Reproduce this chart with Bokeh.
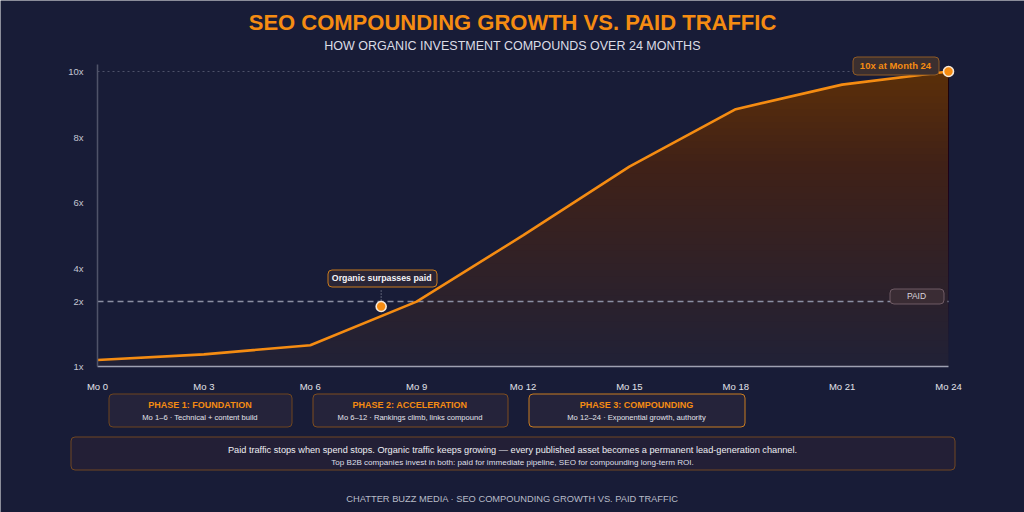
import numpy as np
from bokeh.plotting import figure
from bokeh.models import Label, BoxAnnotation, FixedTicker, Range1d
from bokeh.embed import file_html
from bokeh.resources import INLINE

# ---- data -------------------------------------------------------------
months = [0, 3, 6, 9, 12, 15, 18, 21, 24]
organic = [1.2, 1.37, 1.65, 2.98, 5.0, 7.1, 8.85, 9.6, 10.0]
paid = [2.98, 2.98, 2.98, 2.98, 2.98, 2.98, 2.98, 2.98, 2.98]
crossover_month = 8
crossover_value = 2.83
peak_month = 24
peak_value = 10.0

x_tick_values = [0, 3, 6, 9, 12, 15, 18, 21, 24]
x_tick_labels = ["Mo 0", "Mo 3", "Mo 6", "Mo 9", "Mo 12", "Mo 15", "Mo 18", "Mo 21", "Mo 24"]
y_tick_values = [1, 2.98, 4, 6, 8, 10]
y_tick_labels = ["1x", "2x", "4x", "6x", "8x", "10x"]

phase_titles = ["PHASE 1: FOUNDATION", "PHASE 2: ACCELERATION", "PHASE 3: COMPOUNDING"]
phase_notes = ["Mo 1\u20136 \u00b7 Technical + content build",
               "Mo 6\u201312 \u00b7 Rankings climb, links compound",
               "Mo 12\u201324 \u00b7 Exponential growth, authority"]

title_text = "SEO COMPOUNDING GROWTH VS. PAID TRAFFIC"
subtitle_text = "HOW ORGANIC INVESTMENT COMPOUNDS OVER 24 MONTHS"
summary_main = ("Paid traffic stops when spend stops. Organic traffic keeps growing \u2014 "
                "every published asset becomes a permanent lead-generation channel.")
summary_sub = ("Top B2B companies invest in both: paid for immediate pipeline, "
               "SEO for compounding long-term ROI.")
footer_text = "CHATTER BUZZ MEDIA \u00b7 SEO COMPOUNDING GROWTH VS. PAID TRAFFIC"

# ---- layout / style ---------------------------------------------------
W, H = 1024, 512
BG = "#181c37"
ORANGE = "#f58c12"
FONT = "Liberation Sans"

# chart area in canvas pixels: month 0..24 spans X0..X1, value 1 sits at Y1, 10 at Y10
X0, X1 = 97, 948
Y1, Y10 = 366, 71
Y_AXIS_TOP = 64
px_per_month = (X1 - X0) / (months[-1] - months[0])
px_per_unit = (Y1 - Y10) / 9.0
axis_top_value = 1 + (Y1 - Y_AXIS_TOP) / px_per_unit

x_range = Range1d(months[0] - X0 / px_per_month, months[-1] + (W - X1) / px_per_month)
y_range = Range1d(1 - (H - Y1) / px_per_unit, 1 + Y1 / px_per_unit)

p = figure(width=W, height=H, output_backend="svg", toolbar_location=None,
           x_range=x_range, y_range=y_range,
           min_border_left=0, min_border_right=0, min_border_top=0, min_border_bottom=0)
p.background_fill_color = BG
p.border_fill_color = BG
p.outline_line_color = None
p.xgrid.grid_line_color = None
p.ygrid.grid_line_color = None

# axes pinned to the chart origin
p.xaxis.fixed_location = 1
p.xaxis.bounds = (months[0], months[-1])
p.yaxis.fixed_location = months[0]
p.yaxis.bounds = (1, axis_top_value)
p.xaxis.ticker = FixedTicker(ticks=x_tick_values)
p.xaxis.major_label_overrides = dict(zip(x_tick_values, x_tick_labels))
p.yaxis.ticker = FixedTicker(ticks=y_tick_values)
p.yaxis.major_label_overrides = dict(zip(y_tick_values, y_tick_labels))
for ax in (p.xaxis, p.yaxis):
    ax.major_tick_line_color = None
    ax.minor_tick_line_color = None
    ax.major_label_text_font = FONT
    ax.major_label_text_font_size = "9.5px"
    ax.major_label_standoff = 8
p.xaxis.axis_line_color = "#9ea1b2"
p.xaxis.axis_line_width = 1.5
p.xaxis.major_label_text_color = "#e2e3ea"
p.yaxis.axis_line_color = "#4f5369"
p.yaxis.axis_line_width = 1.5
p.yaxis.major_label_text_color = "#c4c6d2"


def sx(m):
    return X0 + (m - months[0]) * px_per_month


def sy(v):
    return Y1 - (v - 1) * px_per_unit


# 10x reference line
p.segment(x0=[months[0]], x1=[months[-1]], y0=[10], y1=[10],
          line_color="#4d5169", line_dash="2 3", line_width=1)

# gradient fill under the organic curve (stacked translucent layers)
xs = np.linspace(months[0], months[-1], 601)
curve = np.interp(xs, months, organic)
levels = np.linspace(1, axis_top_value, 48)


def opacity(v):
    return 0.05 + 0.33 * (v - 1) / 9.0


prev = 0.0
for lv in levels[:-1]:
    target = opacity(lv)
    a = 1 - (1 - target) / (1 - prev)
    prev = target
    p.varea(x=xs, y1=np.minimum(curve, lv), y2=curve,
            fill_color="#e08a26", fill_alpha=a)

# paid baseline
p.line(months, paid, line_color="#8b8fa3", line_width=1.5, line_dash="6 4")

# organic curve
p.line(months, organic, line_color=ORANGE, line_width=2.6)

# crossover callout connector
p.segment(x0=[crossover_month], y0=[crossover_value],
          x1=[crossover_month], y1=[crossover_value + 0.5],
          line_color="#a0a3b4", line_dash="1 2", line_width=1)

p.scatter([crossover_month, peak_month], [crossover_value, peak_value], size=10,
          fill_color=ORANGE, line_color="#f6e8d8", line_width=1.6)


def box(left, right, top, bottom, fill, line, radius=4, lw=1):
    p.add_layout(BoxAnnotation(left=round(left) + 0.5, right=round(right) + 0.5,
                               top=round(top) + 0.5, bottom=round(bottom) + 0.5,
                               left_units="canvas", right_units="canvas",
                               top_units="canvas", bottom_units="canvas",
                               fill_color=fill, fill_alpha=1.0,
                               line_color=line, line_alpha=1.0, line_width=lw,
                               border_radius=radius))


def text(x, y, s, size, color, style="normal", align="center"):
    p.add_layout(Label(x=x, y=y, x_units="canvas", y_units="canvas", text=s,
                       text_font=FONT, text_font_size=size, text_color=color,
                       text_font_style=style, text_align=align, text_baseline="middle"))


# crossover callout
cx, cy = sx(crossover_month), sy(crossover_value)
box(cx - 54, cx + 55, cy - 37, cy - 20, "#2a2536", "#c97a1c")
text(cx + 0.5, cy - 28.5, "Organic surpasses paid", "8.8px", "#f4f4f8", "bold")

# peak callout
px_, py_ = sx(peak_month), sy(peak_value)
box(px_ - 96, px_ - 10, py_ - 15, py_ + 3, "#3b2f2f", "#8e5a26")
text(px_ - 53, py_ - 6, "10x at Month 24", "9.5px", ORANGE, "bold")

# paid tag
qy = sy(paid[-1])
box(sx(months[-1]) - 59, sx(months[-1]) - 5, qy - 13, qy + 2, "#3a2c34", "#6e5a64")
text(sx(months[-1]) - 32, qy - 5.5, "PAID", "8.5px", "#d9d4dc")

# titles
text(W / 2, 22, title_text, "22px", ORANGE, "bold")
text(W / 2, 45, subtitle_text, "12.5px", "#dcdde6")

# phase cards
phase_left = [108, 312, 528]
phase_right = [291, 507, 744]
phase_border = ["#6e451f", "#7e4d1f", "#c97c20"]
for i in range(3):
    box(phase_left[i], phase_right[i], 393, 426, "#25233a", phase_border[i])
    mid = (phase_left[i] + phase_right[i]) / 2
    text(mid, 404, phase_titles[i], "9px", ORANGE, "bold")
    text(mid, 417, phase_notes[i], "7.6px", "#e4e4ec")

# summary panel
box(70, 954, 436, 469, "#231f36", "#704722")
text(W / 2, 449, summary_main, "9.2px", "#eeeef3")
text(W / 2, 461.5, summary_sub, "8.1px", "#dedfe8")

# footer
text(W / 2, 498, footer_text, "9.3px", "#b9bcc9")

open("out.html", "w").write(file_html(p, INLINE))
